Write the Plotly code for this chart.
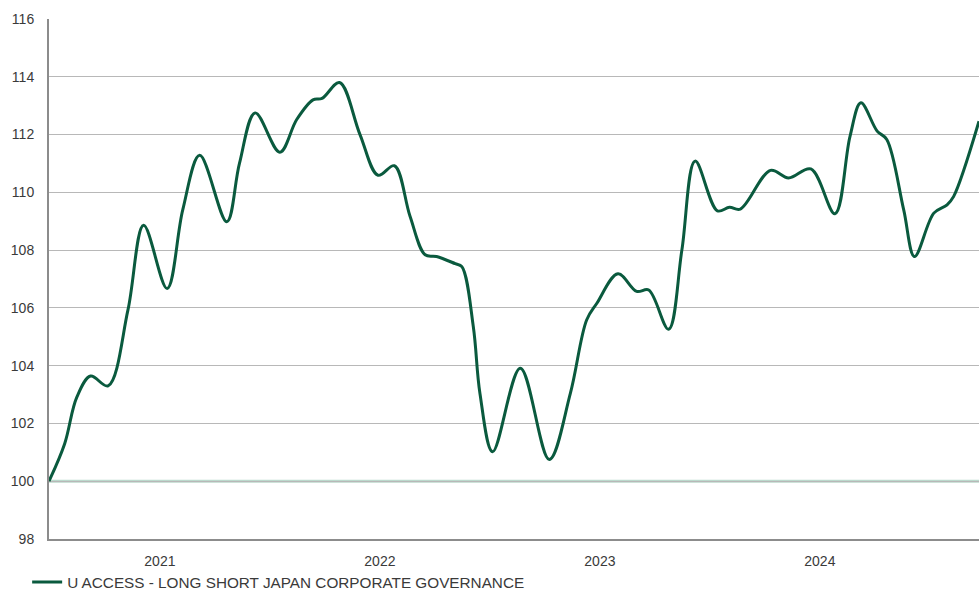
import plotly.graph_objects as go

SERIES_NAME = "U ACCESS - LONG SHORT JAPAN CORPORATE GOVERNANCE"

dates = [
    "2020-07-01", "2020-07-27", "2020-08-16", "2020-09-08", "2020-10-07", "2020-11-09",
    "2020-12-05", "2021-01-13", "2021-02-08", "2021-03-08", "2021-04-22", "2021-05-13",
    "2021-06-08", "2021-07-19", "2021-08-16", "2021-09-12", "2021-09-27", "2021-10-26",
    "2021-11-29", "2021-12-29", "2022-01-25", "2022-02-20", "2022-03-17", "2022-04-05",
    "2022-05-06", "2022-05-17", "2022-06-05", "2022-06-16", "2022-07-07", "2022-08-22",
    "2022-10-09", "2022-11-13", "2022-12-10", "2022-12-27", "2023-01-31", "2023-03-03",
    "2023-03-23", "2023-04-25", "2023-05-17", "2023-06-08", "2023-07-15", "2023-08-04",
    "2023-08-22", "2023-10-11", "2023-11-10", "2023-12-17", "2024-01-26", "2024-02-20",
    "2024-03-09", "2024-04-05", "2024-04-21", "2024-05-19", "2024-06-06", "2024-07-08",
    "2024-07-30", "2024-08-10", "2024-09-21",
]
values = [
    100.0, 101.3, 102.9, 103.64, 103.3, 105.93,
    108.86, 106.67, 109.4, 111.28, 108.98, 111.0,
    112.75, 111.39, 112.52, 113.2, 113.25, 113.8,
    112.0, 110.59, 110.92, 109.17, 107.84, 107.78,
    107.53, 107.43, 105.35, 103.04, 101.02, 103.91,
    100.75, 103.04, 105.58, 106.16, 107.18, 106.57,
    106.62, 105.26, 108.0, 111.08, 109.36, 109.48,
    109.42, 110.76, 110.5, 110.81, 109.26, 111.94,
    113.1, 112.12, 111.83, 109.4, 107.78, 109.28,
    109.57, 109.86, 112.46,
]
baseline = 100
y_ticks = [98, 100, 102, 104, 106, 108, 110, 112, 114, 116]
x_ticks = ["2021-01-01", "2022-01-01", "2023-01-01", "2024-01-01"]
x_tick_labels = ["2021", "2022", "2023", "2024"]

LINE_COLOR = "#0a5a3e"
TEXT_COLOR = "#3a3a3a"
FONT = "Liberation Sans"

fig = go.Figure()
fig.add_trace(go.Scatter(
    x=dates, y=values, mode="lines", name=SERIES_NAME,
    line=dict(color=LINE_COLOR, width=3, shape="spline", smoothing=1.0),
    hoverinfo="x+y",
))

fig.add_shape(type="line", xref="paper", x0=0, x1=1, yref="y", y0=baseline, y1=baseline,
              line=dict(color="#bcd9cd", width=3), layer="below")

fig.update_layout(
    width=979, height=589,
    margin=dict(l=49, r=0, t=19, b=50, autoexpand=False),
    paper_bgcolor="white", plot_bgcolor="white",
    font=dict(family=FONT, size=14, color=TEXT_COLOR),
    showlegend=True,
    legend=dict(orientation="h", x=-0.0235, xanchor="left", y=-0.083, yanchor="middle",
                font=dict(family=FONT, size=15.3, color=TEXT_COLOR), bgcolor="rgba(0,0,0,0)"),
    xaxis=dict(
        type="date", range=[dates[0], dates[-1]],
        tickvals=x_ticks, ticktext=x_tick_labels,
        showgrid=False, zeroline=False, automargin=False,
        showline=True, linecolor="#8c8c8c", linewidth=2,
        ticks="", ticklabelstandoff=8,
        tickfont=dict(family=FONT, size=14, color=TEXT_COLOR),
    ),
    yaxis=dict(
        range=[98, 116], tickvals=y_ticks,
        showgrid=True, gridcolor="#b8b8b8", gridwidth=1,
        zeroline=False, automargin=False,
        showline=True, linecolor="#8c8c8c", linewidth=2,
        ticks="", ticklabelstandoff=10,
        tickfont=dict(family=FONT, size=14, color=TEXT_COLOR),
    ),
)

fig.write_html(
    "out.html",
    config={"displayModeBar": False},
    post_script="document.body.style.margin='0';document.body.style.padding='0';",
)
